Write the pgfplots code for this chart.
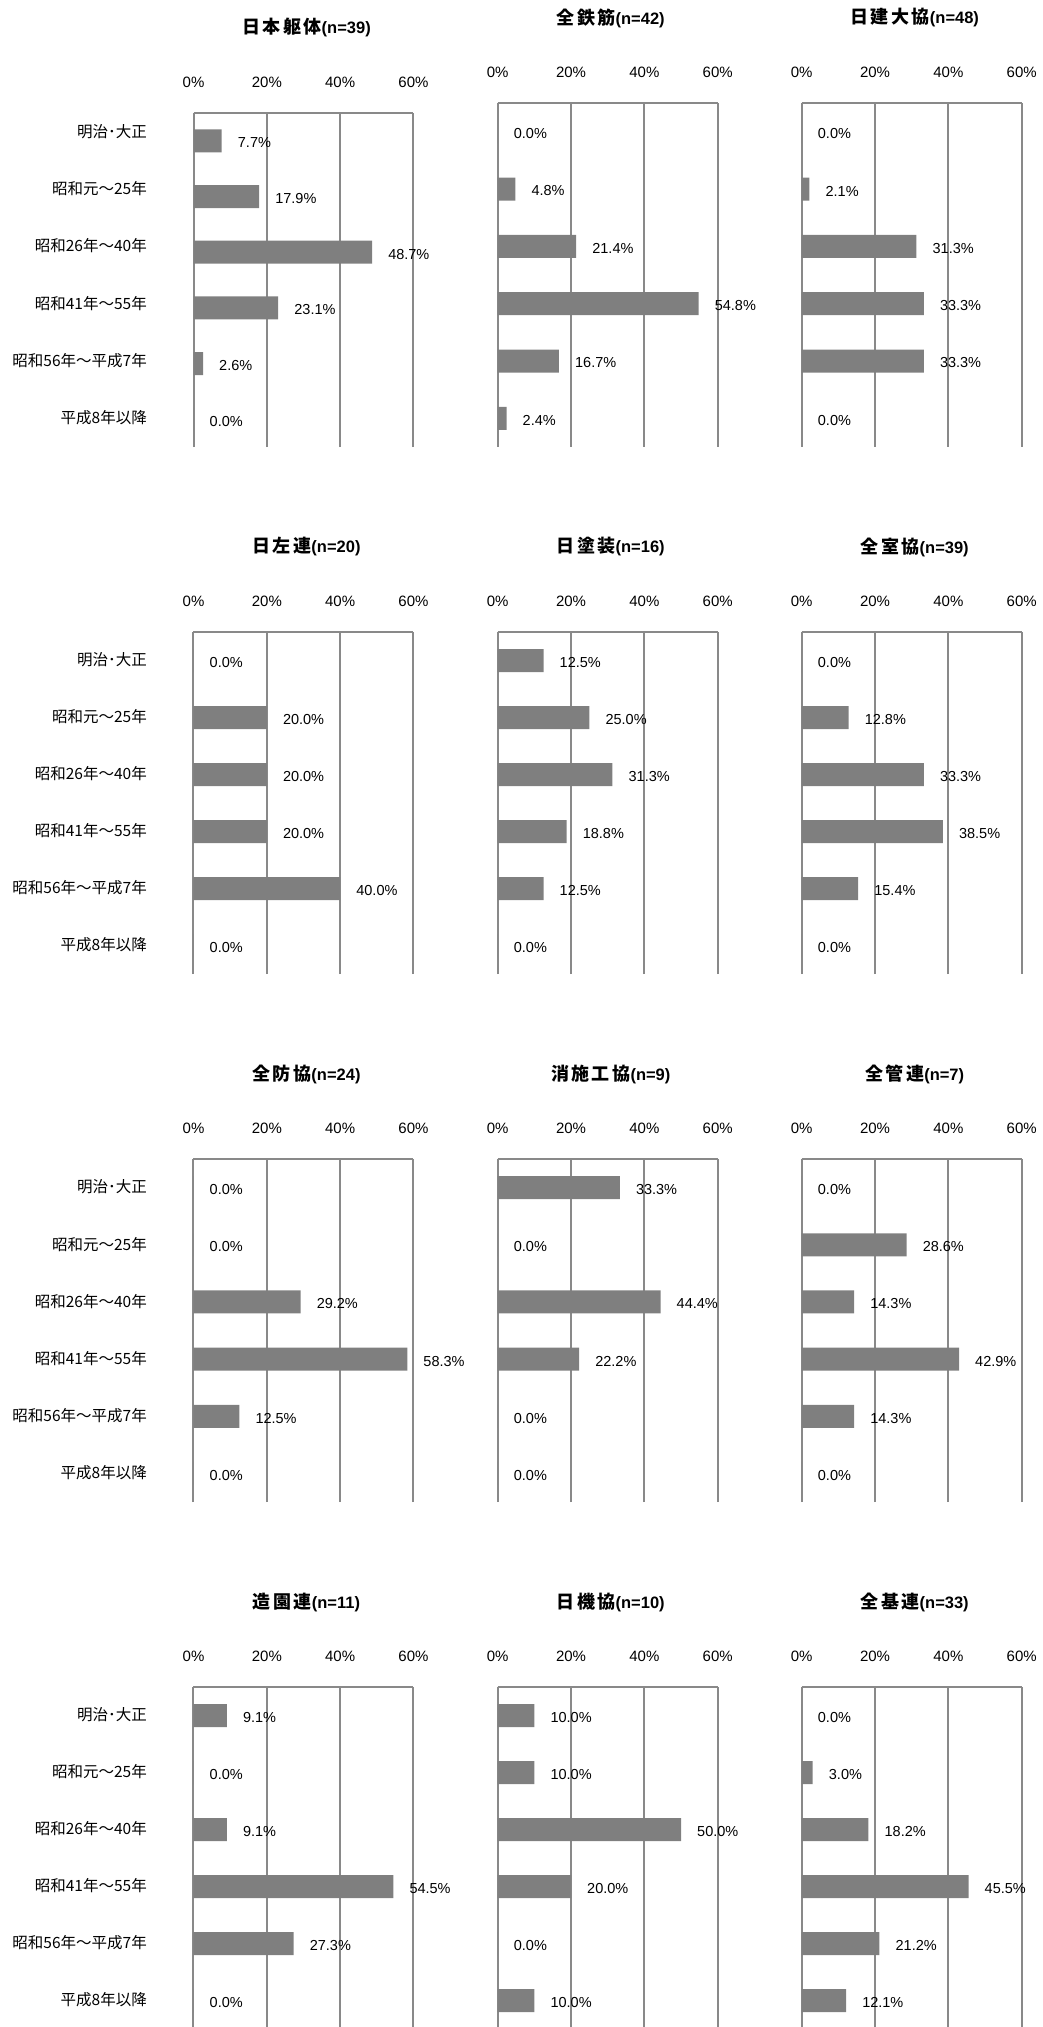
\documentclass[border=0pt]{standalone}
\usepackage{fontspec}
\setmainfont{Liberation Sans}
\newfontfamily\cjk{Noto Sans CJK JP}
\usepackage{pgfplots}
\pgfplotsset{compat=1.18}
\definecolor{barc}{HTML}{7F7F7F}
\definecolor{gridc}{HTML}{898989}
\pgfplotsset{
 panel/.style={
  scale only axis, width=220pt, height=342pt,
  anchor=north west,
  xbar, bar width=23pt,
  xmin=0, xmax=60, ymin=0.5, ymax=6.5,
  xtick={0,20,40,60}, xticklabels={0\%,20\%,40\%,60\%},
  xticklabel pos=upper,
  ytick={1,2,3,4,5,6},
  yticklabels={},
  major tick length=0pt,
  axis line style={draw=none},
  xmajorgrids, ymajorgrids=false,
  grid style={draw=gridc, line width=2pt},
  xticklabel style={font=\fontsize{15}{18}\selectfont, anchor=center, yshift=31pt, inner sep=0pt},
  yticklabel style={font=\cjk\fontsize{15.5}{18}\selectfont, anchor=east, inner sep=0pt, xshift=-46.5pt, yshift=0.5pt},
  every axis title/.style={at={(0.5,1)}, anchor=center, yshift=85pt, xshift=3pt, inner sep=0pt},
  point meta=x,
  /pgf/number format/assume math mode=true,
  nodes near coords={\pgfmathprintnumber[fixed,fixed zerofill,precision=1]{\pgfplotspointmeta}\%},
  nodes near coords style={anchor=west, inner sep=0pt, xshift=16pt, yshift=-2pt, font=\fontsize{14.5}{17}\selectfont, text=black},
  clip=false,
  extra description/.code={\draw[gridc, line width=2pt] (0,1) -- (1,1);},
 },
 cats/.style={yticklabels={平成8年以降,昭和56年～平成7年,昭和41年～55年,昭和26年～40年,昭和元～25年,明治･大正}},
 barsty/.style={fill=barc, draw=none},
}
\newcommand{\ttl}[2]{{\fontsize{18}{22}\selectfont\cjk\bfseries #1}{\fontsize{16.5}{20}\selectfont\bfseries(n=#2)}}
\newcommand{\g}{\kern2.5pt}
\begin{document}
\begin{tikzpicture}
\path[use as bounding box] (0,0) rectangle (1042pt,-2027pt);
% Row 1
\begin{axis}[panel, at={(193.5pt,-113pt)}, height=334pt, title={\ttl{日\g 本\g 躯\g 体}{39}}]
\addplot[barsty] coordinates {(7.7,6) (17.9,5) (48.7,4) (23.1,3) (2.6,2) (0.0,1)};
\end{axis}
% category labels of row 1 (same grid as the neighbouring panels)
\begin{axis}[panel, cats, at={(193.5pt,-103pt)}, height=344pt, xmajorgrids=false, xticklabels={}, nodes near coords={}, extra description/.code={}]
\addplot[draw=none, fill=none, nodes near coords={}] coordinates {(0,1)};
\end{axis}
\begin{axis}[panel, at={(497.7pt,-103pt)}, height=344pt, title={\ttl{全\g 鉄\g 筋}{42}}]
\addplot[barsty] coordinates {(0.0,6) (4.8,5) (21.4,4) (54.8,3) (16.7,2) (2.4,1)};
\end{axis}
\begin{axis}[panel, at={(801.7pt,-103pt)}, height=344pt, title={\ttl{日\g 建\g 大\g 協}{48}}]
\addplot[barsty] coordinates {(0.0,6) (2.1,5) (31.3,4) (33.3,3) (33.3,2) (0.0,1)};
\end{axis}
% Row 2
\begin{axis}[panel, cats, at={(193.5pt,-632pt)}, title={\ttl{日\g 左\g 連}{20}}]
\addplot[barsty] coordinates {(0.0,6) (20.0,5) (20.0,4) (20.0,3) (40.0,2) (0.0,1)};
\end{axis}
\begin{axis}[panel, at={(497.7pt,-632pt)}, title={\ttl{日\g 塗\g 装}{16}}]
\addplot[barsty] coordinates {(12.5,6) (25.0,5) (31.3,4) (18.8,3) (12.5,2) (0.0,1)};
\end{axis}
\begin{axis}[panel, at={(801.7pt,-632pt)}, title={\ttl{全\g 室\g 協}{39}}]
\addplot[barsty] coordinates {(0.0,6) (12.8,5) (33.3,4) (38.5,3) (15.4,2) (0.0,1)};
\end{axis}
% Row 3
\begin{axis}[panel, cats, at={(193.5pt,-1159pt)}, height=343pt, title={\ttl{全\g 防\g 協}{24}}]
\addplot[barsty] coordinates {(0.0,6) (0.0,5) (29.2,4) (58.3,3) (12.5,2) (0.0,1)};
\end{axis}
\begin{axis}[panel, at={(497.7pt,-1159pt)}, height=343pt, title={\ttl{消\g 施\g 工\g 協}{9}}]
\addplot[barsty] coordinates {(33.3,6) (0.0,5) (44.4,4) (22.2,3) (0.0,2) (0.0,1)};
\end{axis}
\begin{axis}[panel, at={(801.7pt,-1159pt)}, height=343pt, title={\ttl{全\g 管\g 連}{7}}]
\addplot[barsty] coordinates {(0.0,6) (28.6,5) (14.3,4) (42.9,3) (14.3,2) (0.0,1)};
\end{axis}
% Row 4
\begin{axis}[panel, cats, at={(193.5pt,-1687pt)}, title={\ttl{造\g 園\g 連}{11}}]
\addplot[barsty] coordinates {(9.1,6) (0.0,5) (9.1,4) (54.5,3) (27.3,2) (0.0,1)};
\end{axis}
\begin{axis}[panel, at={(497.7pt,-1687pt)}, title={\ttl{日\g 機\g 協}{10}}]
\addplot[barsty] coordinates {(10.0,6) (10.0,5) (50.0,4) (20.0,3) (0.0,2) (10.0,1)};
\end{axis}
\begin{axis}[panel, at={(801.7pt,-1687pt)}, title={\ttl{全\g 基\g 連}{33}}]
\addplot[barsty] coordinates {(0.0,6) (3.0,5) (18.2,4) (45.5,3) (21.2,2) (12.1,1)};
\end{axis}
\end{tikzpicture}
\end{document}
